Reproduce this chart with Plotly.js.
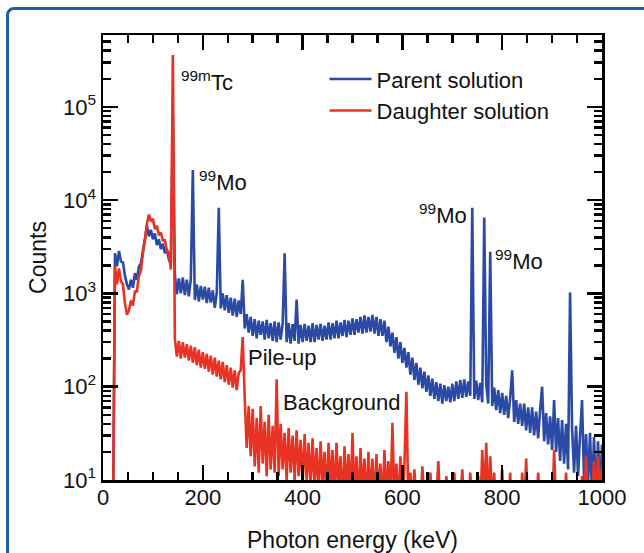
<!DOCTYPE html>
<html>
<head>
<meta charset="utf-8">
<script src="https://cdn.plot.ly/plotly-3.0.1.min.js"></script>
<style>
  html, body { margin: 0; padding: 0; background: #ffffff; overflow: hidden; }
  #wrap { position: relative; width: 644px; height: 553px; }
  #chart { position: absolute; left: 0; top: 0; width: 644px; height: 553px; }
  #frame { position: absolute; left: 6px; top: 7px; width: 700px; height: 620px;
           border: 3px solid #1d5ea8; border-radius: 8px; pointer-events: none; box-sizing: border-box; }
</style>
</head>
<body>
<div id="wrap">
  <div id="chart"></div>
  <div id="frame"></div>
</div>
<script>
// Spectrum channels: 4 keV bins starting at 20 keV, up to 1000 keV
const channelStartKeV = 20;
const channelWidthKeV = 4;

// Parent solution counts (one value per channel, rows of 40 keV)
const parentCounts = [
  3, 2700, 1950, 2850, 2200, 2150, 1550, 1250, 1100, 1400,        // 20-56
  1150, 1650, 1400, 1950, 2100, 2900, 3800, 5300, 4100, 4800,     // 60-96
  3800, 4400, 3300, 3800, 3000, 3400, 2700, 3000, 2300, 2100,     // 100-136
  80000, 1600, 980, 1450, 1000, 1480, 960, 1400, 930, 1420,       // 140-176
  21000, 850, 1250, 820, 1200, 860, 1180, 790, 1150, 800,         // 180-216
  1080, 700, 1020, 8300, 690, 1000, 660, 960, 620, 900,           // 220-256
  580, 880, 560, 840, 600, 1400, 420, 600, 380, 560,              // 260-296
  350, 530, 330, 510, 360, 500, 320, 520, 330, 480,               // 300-336
  310, 500, 300, 490, 320, 470, 2700, 300, 480, 290,              // 340-376
  470, 310, 860, 290, 460, 300, 470, 310, 450, 300,               // 380-416
  480, 300, 460, 320, 470, 310, 450, 320, 490, 320,               // 420-456
  480, 330, 510, 330, 490, 350, 520, 340, 510, 360,               // 460-496
  540, 360, 530, 380, 560, 370, 580, 380, 560, 390,               // 500-536
  590, 370, 560, 350, 530, 350, 510, 300, 440, 270,               // 540-576
  380, 230, 340, 200, 300, 180, 260, 160, 235, 135,               // 580-616
  205, 118, 180, 105, 160, 96, 145, 88, 132, 80,                  // 620-656
  122, 74, 112, 70, 108, 66, 104, 70, 100, 68,                    // 660-696
  108, 70, 114, 74, 118, 76, 120, 78, 114, 80,                    // 700-736
  8300, 74, 116, 72, 110, 68, 6500, 106, 66, 2800,                // 740-776
  62, 98, 56, 92, 52, 86, 50, 80, 46, 76,                         // 780-816
  150, 42, 72, 40, 66, 38, 66, 34, 60, 32,                        // 820-856
  60, 30, 54, 28, 56, 100, 26, 52, 24, 48,                        // 860-896
  21, 72, 20, 46, 16, 44, 15, 40, 13, 1020,                       // 900-936
  36, 12, 38, 11, 30, 72, 10, 31, 9, 32,                          // 940-976
  7, 29, 6, 26, 8, 24                                             // 980-1000
];

// Daughter solution counts (same channels)
const daughterCounts = [
  3, 1950, 1250, 1850, 1350, 1250, 780, 590, 660, 840,            // 20-56
  740, 1050, 1050, 1550, 1750, 2700, 3700, 5600, 7000, 5900,      // 60-96
  6300, 4900, 5300, 4200, 4500, 3700, 3700, 2900, 2700, 1800,     // 100-136
  360000, 330, 210, 310, 200, 300, 205, 285, 190, 275,            // 140-176
  180, 265, 170, 250, 160, 235, 155, 225, 145, 215,               // 180-216
  135, 205, 128, 190, 120, 185, 112, 170, 105, 160,               // 220-256
  98, 150, 92, 140, 150, 340, 75, 22, 62, 18,                     // 260-296
  58, 14, 46, 12, 62, 15, 42, 11, 50, 13,                         // 300-336
  38, 12, 120, 11, 40, 13, 32, 10, 36, 12,                        // 340-376
  30, 10, 34, 11, 27, 9, 31, 10, 25, 8,                           // 380-416
  28, 9, 22, 7, 26, 9, 20, 6, 25, 8,                              // 420-456
  21, 6, 25, 8, 18, 5, 23, 7, 19, 6,                              // 460-496
  32, 6, 18, 5, 22, 7, 17, 5, 20, 6,                              // 500-536
  17, 5, 19, 7, 15, 5, 21, 6, 16, 5,                              // 540-576
  41, 6, 15, 5, 18, 6, 14, 88, 5, 12,                             // 580-616
  5, 13, 6, 9, 5, 14, 6, 8, 5, 12,                                // 620-656
  5, 8, 6, 16, 5, 9, 4, 11, 6, 8,                                 // 660-696
  5, 12, 4, 8, 6, 13, 5, 7, 4, 12,                                // 700-736
  5, 9, 6, 11, 4, 21, 6, 25, 5, 18,                               // 740-776
  6, 12, 4, 8, 5, 13, 4, 9, 5, 12,                                // 780-816
  4, 8, 5, 10, 4, 12, 5, 17, 4, 8,                                // 820-856
  5, 9, 4, 12, 5, 8, 4, 10, 5, 9,                                 // 860-896
  4, 21, 5, 8, 4, 10, 5, 12, 4, 9,                                // 900-936
  5, 10, 4, 8, 5, 11, 4, 18, 5, 9,                                // 940-976
  5, 16, 6, 18, 7, 14                                             // 980-1000
];

const xTickVals = [0, 200, 400, 600, 800, 1000];
const yTickVals = [10, 100, 1000, 10000, 100000];
const yTickText = ['10<sup>1</sup>', '10<sup>2</sup>', '10<sup>3</sup>', '10<sup>4</sup>', '10<sup>5</sup>'];

const seriesNames = ['Parent solution', 'Daughter solution'];
const seriesColors = ['#2a4aa6', '#e83324'];

// Peak labels: [text, energy keV, log10 counts]
const peakLabels = [
  ['<sup>99m</sup>Tc', 152, 5.28],
  ['<sup>99</sup>Mo', 189, 4.21],
  ['<sup>99</sup>Mo', 629, 3.85],
  ['<sup>99</sup>Mo', 782, 3.36],
  ['Pile-up', 287, 2.31],
  ['Background', 357, 1.83]
];

const energy = parentCounts.map((_, i) => channelStartKeV + channelWidthKeV * i);

const FONT = 'Liberation Sans, Arial, Helvetica, sans-serif';

const traces = [
  { x: energy, y: parentCounts, type: 'scatter', mode: 'lines', name: seriesNames[0],
    line: { color: seriesColors[0], width: 2.6, simplify: false } },
  { x: energy, y: daughterCounts, type: 'scatter', mode: 'lines', name: seriesNames[1],
    line: { color: seriesColors[1], width: 2.6, simplify: false } }
];

const layout = {
  width: 644, height: 553,
  margin: { l: 103, r: 42, t: 35, b: 73, pad: 0 },
  paper_bgcolor: 'rgba(0,0,0,0)',
  plot_bgcolor: '#ffffff',
  font: { family: FONT, size: 22, color: '#111111' },
  showlegend: true,
  legend: {
    x: 0.444, xanchor: 'left', y: 0.948, yanchor: 'top',
    bgcolor: 'rgba(0,0,0,0)', font: { family: FONT, size: 22, color: '#111111' },
    tracegroupgap: 0, itemwidth: 42
  },
  xaxis: {
    range: [0, 1000], tickmode: 'array', tickvals: xTickVals,
    ticks: 'inside', ticklen: 15, tickwidth: 2.5, tickcolor: '#000',
    showline: true, linewidth: 2.5, linecolor: '#000', mirror: 'ticks',
    showgrid: false, zeroline: false, ticklabelstandoff: -4,
    tickfont: { family: FONT, size: 22, color: '#111' },
    minor: { dtick: 50, ticks: 'inside', ticklen: 8, tickwidth: 2.5, tickcolor: '#000', showgrid: false },
    title: { text: 'Photon energy (keV)', font: { family: FONT, size: 23, color: '#111' }, standoff: 24 }
  },
  yaxis: {
    type: 'log', range: [1, 5.77], tickmode: 'array', tickvals: yTickVals, ticktext: yTickText,
    ticks: 'inside', ticklen: 15, tickwidth: 2.5, tickcolor: '#000',
    showline: true, linewidth: 2.5, linecolor: '#000', mirror: 'ticks',
    showgrid: false, zeroline: false,
    tickfont: { family: FONT, size: 22, color: '#111' },
    minor: { dtick: 'D1', ticks: 'inside', ticklen: 8, tickwidth: 2.5, tickcolor: '#000', showgrid: false },
    title: { text: 'Counts', font: { family: FONT, size: 23, color: '#111' }, standoff: 10 }
  },
  annotations: peakLabels.map(p => ({
    text: p[0], x: p[1], y: p[2], xref: 'x', yref: 'y',
    xanchor: 'left', yanchor: 'middle', showarrow: false,
    font: { family: FONT, size: 22, color: '#111' }
  }))
};

Plotly.newPlot('chart', traces, layout, { displayModeBar: false, staticPlot: true });
</script>
</body>
</html>
